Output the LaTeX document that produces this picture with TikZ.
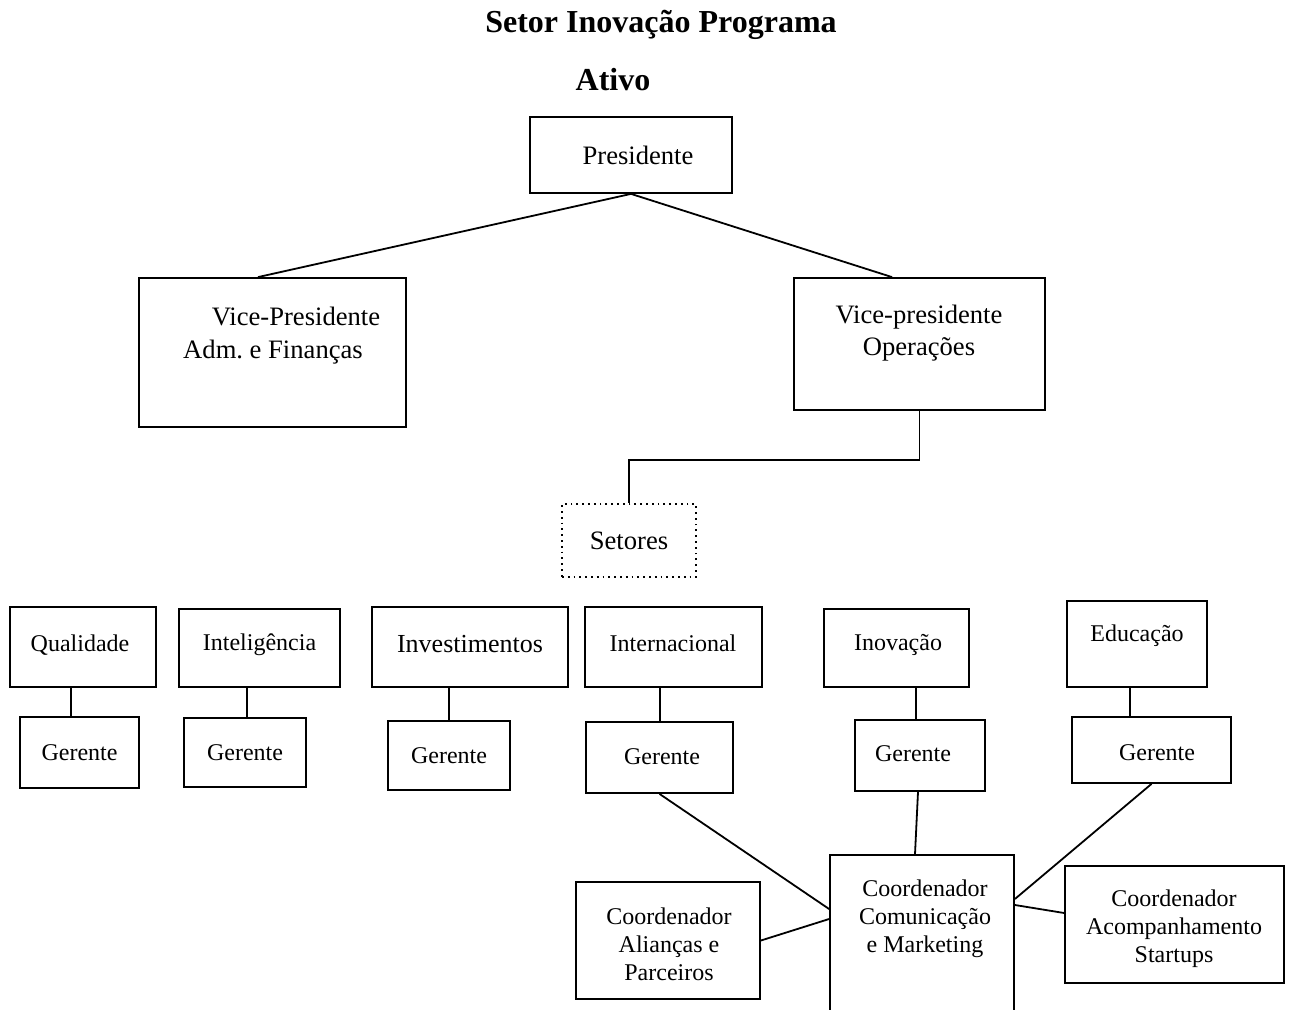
\documentclass[tikz,border=0pt]{standalone}
\usepackage{fontspec}
\setmainfont{Liberation Serif}
\begin{document}
\begin{tikzpicture}[x=0.5pt,y=-0.5pt,
  box/.style={draw,line width=0.9pt,inner sep=0pt,align=center,font=\fontsize{12}{14}\selectfont},
  bigfont/.style={font=\fontsize{13.3}{16}\selectfont},
  dotbox/.style={box,dotted},
  txt/.style={inner sep=0pt,align=center,font=\fontsize{12}{14}\selectfont},
  ttl/.style={inner sep=0pt,font=\fontsize{16}{18}\selectfont\bfseries},
  conn/.style={line width=0.9pt}]
\useasboundingbox (0,0) rectangle (1294,1010);
% titles
\node[ttl] (t1) at (661,25) {Setor Inovação Programa};
\node[ttl] (t2) at (613,80) {Ativo};
% top level
\node[box,minimum width=101pt,minimum height=38pt] (pres) at (631,155) {};
\node[txt,bigfont] (prest) at (638,155) {Presidente};
\node[box,minimum width=133.5pt,minimum height=74.5pt] (vpa) at (272.5,352.5) {};
\node[txt,bigfont] (vpat1) at (296,316) {Vice-Presidente};
\node[txt,bigfont] (vpat2) at (273,352) {Adm.\ e Finanças};
\node[box,minimum width=125.5pt,minimum height=66pt] (vpo) at (919.5,344) {};
\node[txt,bigfont] (vpot) at (919,333) {Vice-presidente\\Operações};
\node[dotbox,bigfont,minimum width=67pt,minimum height=36.5pt] (set) at (629,540.5) {Setores};
% sectors
\node[box,minimum width=73pt,minimum height=40pt] (qual) at (83,647) {};
\node[txt] (qualt) at (80,645) {Qualidade};
\node[box,minimum width=59.5pt,minimum height=35.5pt] (qualg) at (79.5,752.5) {Gerente};
\node[box,minimum width=80.5pt,minimum height=39pt] (intel) at (259.5,648) {};
\node[txt] (intelt) at (259.5,645) {Inteligência};
\node[box,minimum width=61pt,minimum height=34.5pt] (intelg) at (245,752.5) {Gerente};
\node[box,minimum width=98pt,minimum height=40pt,font=\fontsize{13}{15}\selectfont] (inv) at (470,647) {};
\node[txt,font=\fontsize{13}{15}\selectfont] (invt) at (470,644) {Investimentos};
\node[box,minimum width=61pt,minimum height=34.5pt] (invg) at (449,755.5) {Gerente};
\node[box,minimum width=88.5pt,minimum height=40pt] (intl) at (673.5,647) {};
\node[txt] (intlt) at (673,643) {Internacional};
\node[box,minimum width=73.5pt,minimum height=35.5pt] (intlg) at (659.5,757.5) {};
\node[txt] (intlgt) at (662,757) {Gerente};
\node[box,minimum width=72.5pt,minimum height=39pt] (inov) at (896.5,648) {};
\node[txt] (inovt) at (898,645) {Inovação};
\node[box,minimum width=65pt,minimum height=35.5pt] (inovg) at (920,755.5) {};
\node[txt] (inovgt) at (913,754) {Gerente};
\node[box,minimum width=70pt,minimum height=43pt] (edu) at (1137,644) {};
\node[txt] (edut) at (1137,636) {Educação};
\node[box,minimum width=79.5pt,minimum height=33pt] (edug) at (1151.5,750) {};
\node[txt] (edugt) at (1157,753) {Gerente};
% coordinators
\node[box,minimum width=92pt,minimum height=79.5pt] (com) at (922,934.5) {};
\node[txt] (comt) at (925,919) {Coordenador\\Comunicação\\e Marketing};
\node[box,minimum width=109.5pt,minimum height=58.5pt] (acomp) at (1174.5,924.5) {};
\node[txt] (acompt) at (1174,929) {Coordenador\\Acompanhamento\\Startups};
\node[box,minimum width=92pt,minimum height=58.5pt] (ali) at (668,940.5) {};
\node[txt] (alit) at (669,944) {Coordenador\\Alianças e\\Parceiros};
% connectors
\draw[conn] (pres.south) -- ([xshift=-7.25pt]vpa.north);
\draw[conn] (pres.south) -- ([xshift=-13.75pt]vpo.north);
\draw[conn] (vpo.south) -- ++(0,49) -| (set.north);
\draw[conn] ([xshift=-4.25pt]qualg.north) -- ([xshift=-4.25pt]qualg.north |- qual.south);
\draw[conn] ([xshift=1pt]intelg.north) -- ([xshift=1pt]intelg.north |- intel.south);
\draw[conn] (invg.north) -- (invg.north |- inv.south);
\draw[conn] ([xshift=0.25pt]intlg.north) -- ([xshift=0.25pt]intlg.north |- intl.south);
\draw[conn] ([xshift=-2pt]inovg.north) -- ([xshift=-2pt]inovg.north |- inov.south);
\draw[conn] ([xshift=-10.75pt]edug.north) -- ([xshift=-10.75pt]edug.north |- edu.south);
\draw[conn] (intlg.south) -- ([yshift=12.75pt]com.west);
\draw[conn] ([xshift=-1pt]inovg.south) -- ([xshift=-3.5pt]com.north);
\draw[conn] (edug.south) -- ([yshift=17.75pt]com.east);
\draw[conn] (ali.east) -- ([yshift=7.75pt]com.west);
\draw[conn] ([yshift=5.75pt]acomp.west) -- ([yshift=14.75pt]com.east);
\end{tikzpicture}
\end{document}
